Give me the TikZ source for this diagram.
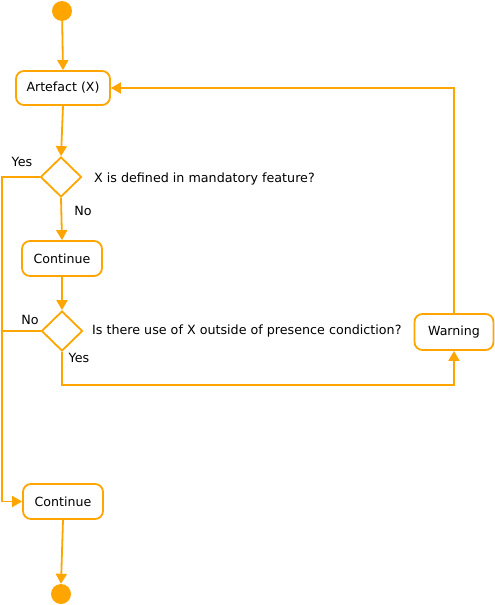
\documentclass[tikz,border=0pt]{standalone}
\usepackage{fontspec}
\setmainfont{DejaVu Sans}
\usetikzlibrary{arrows.meta,shapes.geometric}
\definecolor{flow}{HTML}{FFA500}
\tikzset{
  actbox/.style={draw=flow, line width=1.8pt, rounded corners=8pt, fill=white, inner sep=0pt, font=\fontsize{12.6}{14}\selectfont},
  dec/.style={draw=flow, line width=1.8pt, diamond, minimum width=41pt, minimum height=40pt, inner sep=0pt, fill=white},
  dot/.style={circle, fill=flow, minimum size=20pt, inner sep=0pt},
  conn/.style={draw=flow, line width=1.8pt, -{Triangle[length=10pt,width=11pt]}},
  plain/.style={draw=flow, line width=1.8pt},
  lbl/.style={font=\fontsize{12.7}{14}\selectfont, inner sep=0pt}
}
\begin{document}
\begin{tikzpicture}[x=1pt,y=-1pt]
\useasboundingbox (0,0) rectangle (495,605);
\node[dot] (start) at (62,11) {};
\node[actbox, minimum width=94pt, minimum height=34pt] (art) at (63,88) {Artefact (X)};
\node[dec] (d1) at (61,177) {};
\node[lbl, anchor=west] (q1) at (94,179) {X is defined in mandatory feature?};
\node[lbl] (yes1) at (22,162) {Yes};
\node[lbl] (no1) at (83,211) {No};
\node[actbox, minimum width=80pt, minimum height=35pt] (c1) at (62,258.5) {Continue};
\node[dec] (d2) at (62,331) {};
\node[lbl, anchor=west] (q2) at (92,331) {Is there use of X outside of presence condiction?};
\node[lbl] (no2) at (30,320) {No};
\node[lbl] (yes2) at (79,358) {Yes};
\node[actbox, minimum width=79pt, minimum height=36pt] (warn) at (454,332) {Warning};
\node[actbox, minimum width=80pt, minimum height=35pt] (c2) at (63,501.5) {Continue};
\node[dot] (end) at (61,594) {};
\coordinate (lx1) at (2,177);
\coordinate (lx2) at (2,501.5);
\coordinate (lx3) at (2,331);
\coordinate (yb) at (62,385);
\coordinate (wb) at (454,385);
\coordinate (wt) at (454,88);

\draw[conn] (start) -- (art.north);
\draw[conn] (art.south) -- (d1.north);
\draw[conn] (d1.south) -- (c1.north);
\draw[conn] (c1.south) -- (d2.north);
\draw[conn] (d1.west) -- (lx1) -- (lx2) -- (c2.west);
\draw[plain] (d2.west) -- (lx3);
\draw[conn] (d2.south) -- (yb) -- (wb) -- (warn.south);
\draw[conn] (warn.north) -- (wt) -- (art.east);
\draw[conn] (c2.south) -- (end.north);
\end{tikzpicture}
\end{document}
